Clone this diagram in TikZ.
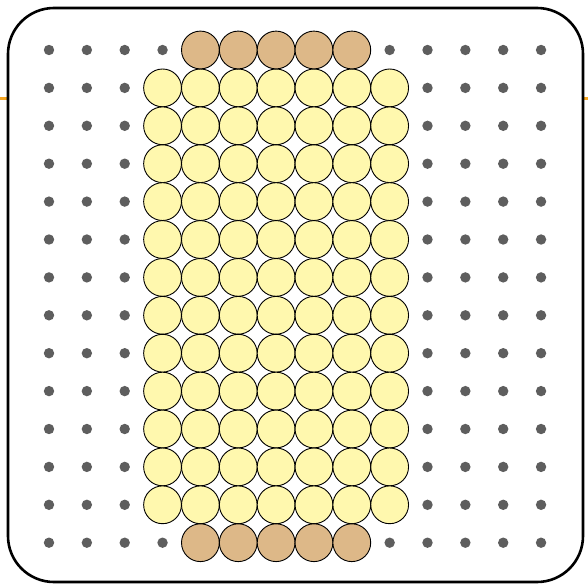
\documentclass[tikz,border=0pt]{standalone}
\usepackage{tikz}
\definecolor{pegbrown}{HTML}{DDB888}
\definecolor{pegyellow}{HTML}{FFF8AE}
\definecolor{holegray}{HTML}{5E5E5E}
\definecolor{rail}{HTML}{F5A623}

\begin{document}
\begin{tikzpicture}[x=1pt,y=-1pt]
      \useasboundingbox (0,0) rectangle (588,583);

      % Rail behind the board
      \draw[rail, line width=3pt] (0,99) -- (588,99);

      % Board
      \draw[line width=2.6pt, fill=white, rounded corners=46pt]
        (8,8) rectangle (583,582);

      % Holes
      \foreach \i in {0,...,13}
        \foreach \j in {0,...,13}
          \fill[holegray] ({49+37.85*\i},{50+37.9*\j}) circle (5.2);

      % Yellow pegs
      \foreach \i in {3,...,9}
        \foreach \j in {1,...,12}
          \draw[fill=pegyellow, line width=0.9pt]
            ({49+37.85*\i},{50+37.9*\j}) circle (18.9);

      % Brown pegs, top and bottom rows
      \foreach \i in {4,...,8}
        \foreach \j in {0,13}
          \draw[fill=pegbrown, line width=0.9pt]
            ({49+37.85*\i},{50+37.9*\j}) circle (18.9);
    \end{tikzpicture}
\end{document}
